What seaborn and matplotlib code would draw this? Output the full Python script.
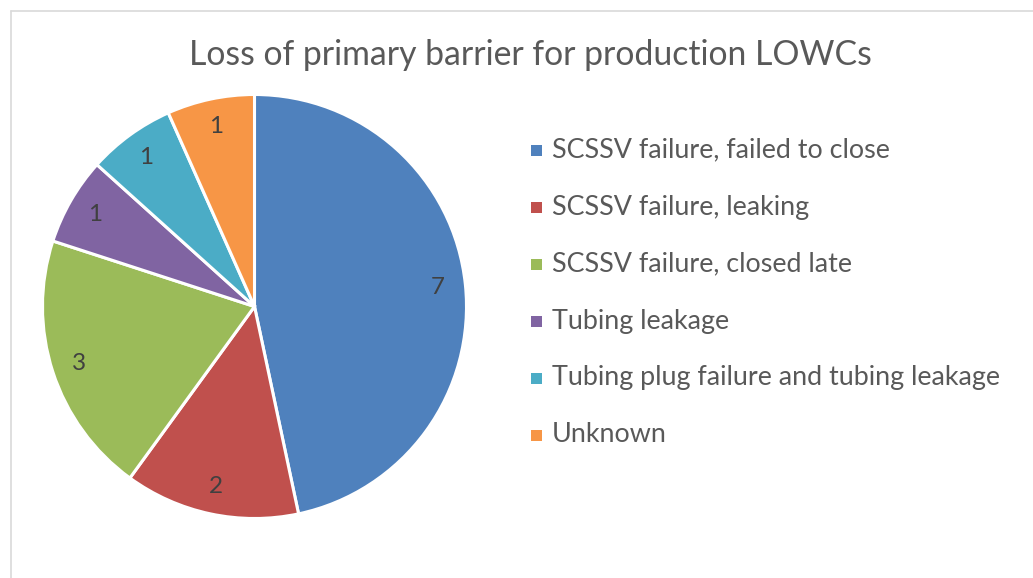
import matplotlib
matplotlib.use("Agg")
import matplotlib.pyplot as plt
from matplotlib.patches import Rectangle
from matplotlib.lines import Line2D
import seaborn as sns

# Loss of primary barrier for production LOWCs, by cause
categories = [
    "SCSSV failure, failed to close",
    "SCSSV failure, leaking",
    "SCSSV failure, closed late",
    "Tubing leakage",
    "Tubing plug failure and tubing leakage",
    "Unknown",
]
counts = [7, 2, 3, 1, 1, 1]
colors = ["#4F81BD", "#C0504D", "#9BBB59", "#8064A2", "#4BACC6", "#F79646"]
title = "Loss of primary barrier for production LOWCs"

sns.set_theme(style="white")
plt.rcParams["font.family"] = ["Lato", "DejaVu Sans"]

W, H = 1033, 578
fig = plt.figure(figsize=(W / 100, H / 100), dpi=100)
fig.patch.set_facecolor("white")

def px_box(left, top, w, h):
    return [left / W, 1 - (top + h) / H, w / W, h / H]

# Pie axes: centre (254.5, 306.5) px, radius 212 px
cx, cy, r = 254.5, 306.5, 212
ax = fig.add_axes(px_box(cx - r, cy - r, 2 * r, 2 * r))
total = sum(counts)
wedges, _, autotexts = ax.pie(
    counts,
    colors=colors,
    startangle=90,
    counterclock=False,
    radius=1,
    autopct=lambda p: f"{round(p * total / 100):d}",
    pctdistance=0.87,
    wedgeprops=dict(edgecolor="white", linewidth=2.2),
    textprops=dict(color="#404040", fontsize=17.5),
)
ax.set_xlim(-1, 1)
ax.set_ylim(-1, 1)
ax.set_axis_off()

# Title
fig.text(530 / W, 1 - 55 / H, title, ha="center", va="center",
         fontsize=24.3, color="#595959")

# Legend entries
row0, step = 150, 57
for i, (lab, col) in enumerate(zip(categories, colors)):
    yc = row0 + i * step
    fig.add_artist(Rectangle((530.5 / W, 1 - (yc + 5.5) / H), 11 / W, 11 / H,
                             transform=fig.transFigure, facecolor=col,
                             edgecolor="none"))
    fig.text(552 / W, 1 - yc / H, lab, ha="left", va="center",
             fontsize=19.4, color="#595959")

# Chart-area frame
fig.add_artist(Line2D([11 / W, 1.0], [1 - 10.5 / H, 1 - 10.5 / H],
                      transform=fig.transFigure, color="#D9D9D9", lw=1.2))
fig.add_artist(Line2D([11 / W, 11 / W], [0, 1 - 10.5 / H],
                      transform=fig.transFigure, color="#D9D9D9", lw=1.2))

fig.savefig("out.png", dpi=100)
